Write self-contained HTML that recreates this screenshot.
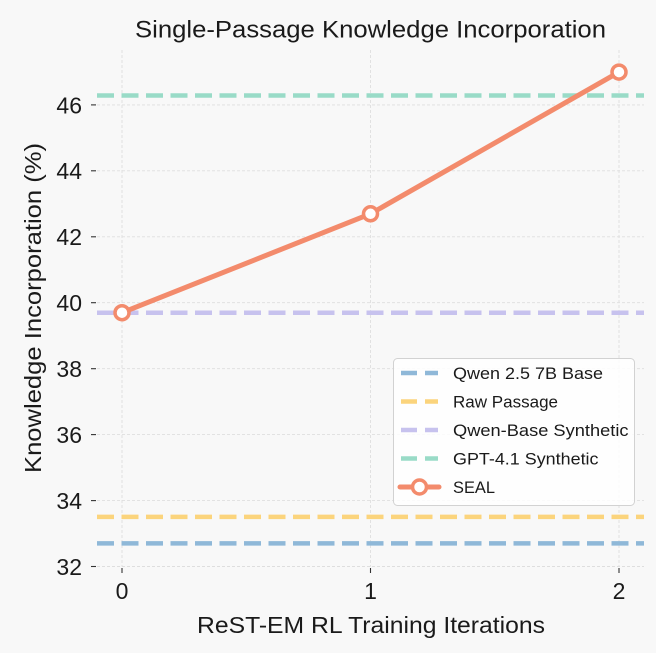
<!DOCTYPE html>
<html>
<head>
<meta charset="utf-8">
<style>
  html, body { margin:0; padding:0; background:#f8f8f8; }
  svg { display:block; }
  text { font-family: "Liberation Sans", "DejaVu Sans", sans-serif; fill:#1a1a1a; }
</style>
</head>
<body>
<svg width="656" height="653" viewBox="0 0 656 653" xmlns="http://www.w3.org/2000/svg">
  <rect x="0" y="0" width="656" height="653" fill="#f8f8f8"/>

  <!-- grid -->
  <g stroke="#dedede" stroke-width="0.9" stroke-dasharray="3 2" fill="none">
    <line x1="97" y1="566.5" x2="644" y2="566.5"/>
    <line x1="97" y1="500.6" x2="644" y2="500.6"/>
    <line x1="97" y1="434.6" x2="644" y2="434.6"/>
    <line x1="97" y1="368.7" x2="644" y2="368.7"/>
    <line x1="97" y1="302.7" x2="644" y2="302.7"/>
    <line x1="97" y1="236.8" x2="644" y2="236.8"/>
    <line x1="97" y1="170.8" x2="644" y2="170.8"/>
    <line x1="97" y1="104.9" x2="644" y2="104.9"/>
    <line x1="122" y1="50" x2="122" y2="566.5"/>
    <line x1="370.5" y1="50" x2="370.5" y2="566.5"/>
    <line x1="619" y1="50" x2="619" y2="566.5"/>
  </g>

  <!-- ticks -->
  <g stroke="#333" stroke-width="1.1">
    <line x1="91" y1="566.5" x2="96" y2="566.5"/>
    <line x1="91" y1="500.6" x2="96" y2="500.6"/>
    <line x1="91" y1="434.6" x2="96" y2="434.6"/>
    <line x1="91" y1="368.7" x2="96" y2="368.7"/>
    <line x1="91" y1="302.7" x2="96" y2="302.7"/>
    <line x1="91" y1="236.8" x2="96" y2="236.8"/>
    <line x1="91" y1="170.8" x2="96" y2="170.8"/>
    <line x1="91" y1="104.9" x2="96" y2="104.9"/>
    <line x1="122" y1="568" x2="122" y2="573"/>
    <line x1="370.5" y1="568" x2="370.5" y2="573"/>
    <line x1="619" y1="568" x2="619" y2="573"/>
  </g>

  <!-- y tick labels -->
  <g font-size="23" text-anchor="end">
    <text x="82" y="575">32</text>
    <text x="82" y="509">34</text>
    <text x="82" y="443">36</text>
    <text x="82" y="377">38</text>
    <text x="82" y="311">40</text>
    <text x="82" y="245">42</text>
    <text x="82" y="179">44</text>
    <text x="82" y="113.5">46</text>
  </g>
  <!-- x tick labels -->
  <g font-size="23" text-anchor="middle">
    <text x="122" y="599">0</text>
    <text x="370.5" y="599">1</text>
    <text x="619" y="599">2</text>
  </g>

  <!-- baselines -->
  <g stroke-width="4.5" stroke-dasharray="17 7.5" fill="none">
    <line x1="97" y1="543.4" x2="644" y2="543.4" stroke="#8fb8d8"/>
    <line x1="97" y1="516.9" x2="644" y2="516.9" stroke="#fbd47c"/>
    <line x1="97" y1="312.7" x2="644" y2="312.7" stroke="#c7c2ee"/>
    <line x1="97" y1="95.5" x2="644" y2="95.5" stroke="#99dbc7"/>
  </g>

  <!-- SEAL -->
  <polyline points="122,312.7 370.5,213.8 619,72.1" fill="none" stroke="#f38b6c" stroke-width="5" stroke-linejoin="round" stroke-linecap="round"/>
  <g fill="#ffffff" stroke="#f38b6c" stroke-width="3.5">
    <circle cx="122" cy="312.7" r="7"/>
    <circle cx="370.5" cy="213.8" r="7"/>
    <circle cx="619" cy="72.1" r="7"/>
  </g>

  <!-- title and axis labels -->
  <text x="370.5" y="37.5" font-size="24" text-anchor="middle" textLength="471" lengthAdjust="spacingAndGlyphs">Single-Passage Knowledge Incorporation</text>
  <text x="371" y="633" font-size="23" text-anchor="middle" textLength="348" lengthAdjust="spacingAndGlyphs">ReST-EM RL Training Iterations</text>
  <text transform="translate(41,308) rotate(-90)" x="0" y="0" font-size="23" text-anchor="middle" textLength="330" lengthAdjust="spacingAndGlyphs">Knowledge Incorporation (%)</text>

  <!-- legend -->
  <rect x="393.5" y="358.5" width="241" height="147" rx="4" ry="4" fill="#ffffff" fill-opacity="0.85" stroke="#d2d2d2" stroke-width="1"/>
  <g stroke-width="4.5" stroke-dasharray="16 8">
    <line x1="401" y1="373" x2="438" y2="373" stroke="#8fb8d8"/>
    <line x1="401" y1="401.5" x2="438" y2="401.5" stroke="#fbd47c"/>
    <line x1="401" y1="430" x2="438" y2="430" stroke="#c7c2ee"/>
    <line x1="401" y1="458.5" x2="438" y2="458.5" stroke="#99dbc7"/>
  </g>
  <line x1="400" y1="487" x2="439" y2="487" stroke="#f38b6c" stroke-width="5" stroke-linecap="round"/>
  <circle cx="419.5" cy="487" r="7" fill="#ffffff" stroke="#f38b6c" stroke-width="3.5"/>
  <g font-size="17">
    <text x="453" y="379" textLength="150" lengthAdjust="spacingAndGlyphs">Qwen 2.5 7B Base</text>
    <text x="453" y="407.5" textLength="105" lengthAdjust="spacingAndGlyphs">Raw Passage</text>
    <text x="453" y="436" textLength="175.5" lengthAdjust="spacingAndGlyphs">Qwen-Base Synthetic</text>
    <text x="453" y="464.5" textLength="145.5" lengthAdjust="spacingAndGlyphs">GPT-4.1 Synthetic</text>
    <text x="453" y="493" textLength="42" lengthAdjust="spacingAndGlyphs">SEAL</text>
  </g>
</svg>
</body>
</html>
